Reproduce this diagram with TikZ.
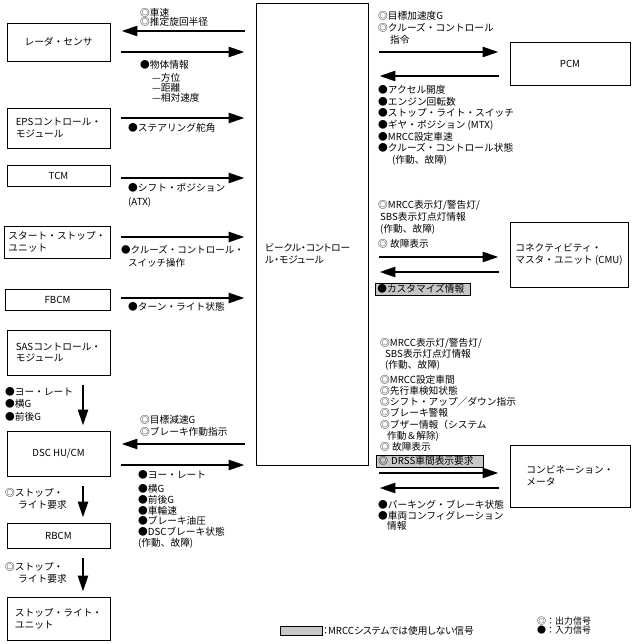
\documentclass[tikz,border=0pt]{standalone}
\usepackage{fontspec}
\setmainfont{Noto Sans CJK JP}
\newfontfamily\jpnarrow[RawFeature=+palt]{Noto Sans CJK JP}
\usetikzlibrary{arrows.meta}
\colorlet{NotUsed}{black!22}

\begin{document}
\begin{tikzpicture}[x=1pt,y=-1pt,
    every node/.style={font=\fontsize{9.7}{11.7}\selectfont},
    box/.style={draw,line width=0.9pt,inner sep=0pt,align=left},
    sig/.style={anchor=north west,align=left,inner sep=0pt},
    grey/.style={draw,line width=0.6pt,fill=NotUsed,anchor=west,
                 inner xsep=2pt,inner ysep=0pt,align=left},
    flow/.style={line width=2.6pt,-{Triangle[length=16pt,width=10pt]},
                 shorten <=11pt,shorten >=11pt},
    down/.style={line width=2.6pt,-{Triangle[length=16pt,width=10pt]},
                 shorten <=10pt,shorten >=5pt}]
  \useasboundingbox (0,0) rectangle (634,644);

  % modules
  \node[box,minimum width=103,minimum height=38] (radar) at (58.5,42) {レーダ・センサ};
  \node[box,minimum width=103,minimum height=40] (eps) at (58.5,128) {EPSコントロール・\\モジュール};
  \node[box,minimum width=103,minimum height=21] (tcm) at (58.5,175.5) {TCM};
  \node[box,minimum width=106,minimum height=32] (ssu) at (57,242) {スタート・ストップ・\\ユニット};
  \node[box,minimum width=105,minimum height=21] (fbcm) at (57.5,299.5) {FBCM};
  \node[box,minimum width=103,minimum height=45] (sas) at (58.5,352.5) {SASコントロール・\\モジュール};
  \node[box,minimum width=103,minimum height=45] (dsc) at (58.5,453.5) {DSC HU/CM};
  \node[box,minimum width=103,minimum height=25] (rbcm) at (58.5,535.5) {RBCM};
  \node[box,minimum width=103,minimum height=43] (slu) at (58.5,618.5) {ストップ・ライト・\\ユニット};
  \node[box,minimum width=112,minimum height=462] (vcm) at (312,234) {};
  \node[anchor=west,align=left,inner sep=0pt,font=\jpnarrow\fontsize{9.7}{12}\selectfont] (vcmname) at (265,254) {ビークル・コントロー\\ル・モジュール};
  \node[box,minimum width=120,minimum height=43] (pcm) at (570,63.5) {PCM};
  \node[box,minimum width=118,minimum height=65] (cmu) at (569,254.5) {コネクティビティ・\\マスタ・ユニット (CMU)};
  \node[box,minimum width=120,minimum height=62] (meter) at (570,476) {コンビネーション・\\メータ};

  % left side signals
  \draw[flow] (vcm.west |- 0,31) -- (radar.east |- 0,31);
  \draw[flow] (radar.east |- 0,52) -- (vcm.west |- 0,52);
  \draw[flow] (eps.east |- 0,118) -- (vcm.west |- 0,118);
  \draw[flow] (tcm.east |- 0,178) -- (vcm.west |- 0,178);
  \draw[flow] (ssu.east |- 0,237) -- (vcm.west |- 0,237);
  \draw[flow] (fbcm.east |- 0,298) -- (vcm.west |- 0,298);
  \draw[flow] (vcm.west |- 0,444) -- (dsc.east |- 0,444);
  \draw[flow] (dsc.east |- 0,465) -- (vcm.west |- 0,465);

  \node[sig,font=\fontsize{9.7}{9.5}\selectfont] (radarout) at (140,8) {◎車速\\◎推定旋回半径};
  \node[sig,font=\fontsize{9.7}{10}\selectfont] (radarin) at (140,60)
       {●物体情報\\[3pt]\hspace{12pt}—方位\\\hspace{12pt}—距離\\\hspace{12pt}—相対速度};
  \node[sig] (epsin) at (128,123) {●ステアリング舵角};
  \node[sig,font=\fontsize{9.7}{13.5}\selectfont] (tcmin) at (128,183.5) {●シフト・ポジション\\(ATX)};
  \node[sig,font=\fontsize{9.5}{13}\selectfont] (ssuin) at (121,245) {●クルーズ・コントロール・\\\hspace{7pt}スイッチ操作};
  \node[sig] (fbcmin) at (128,302) {●ターン・ライト状態};
  \node[sig,font=\fontsize{9.7}{12.5}\selectfont] (sasin) at (5,387) {●ヨー・レート\\●横G\\●前後G};
  \node[sig,font=\fontsize{9.7}{12}\selectfont] (dscout) at (140,415) {◎目標減速G\\◎ブレーキ作動指示};
  \node[sig,font=\fontsize{9.7}{10.7}\selectfont] (dscin) at (138,470)
       {●ヨー・レート\\[3.8pt]●横G\\●前後G\\●車輪速\\●ブレーキ油圧\\●DSCブレーキ状態\\(作動、故障)};

  % brake lamp chain
  \coordinate (vx) at (83,0);
  \draw[down] (sas.south -| vx) -- (dsc.north -| vx);
  \draw[down] (dsc.south -| vx) -- (rbcm.north -| vx);
  \draw[down] (rbcm.south -| vx) -- (slu.north -| vx);
  \node[sig,font=\fontsize{9.7}{12}\selectfont] (dscreq) at (5,488) {◎ストップ・\\\hspace{13pt}ライト要求};
  \node[sig,font=\fontsize{9.7}{12}\selectfont] (rbcmreq) at (5,562) {◎ストップ・\\\hspace{13pt}ライト要求};

  % right side signals
  \draw[flow] (vcm.east |- 0,52) -- (pcm.west |- 0,52);
  \draw[flow] (pcm.west |- 0,76) -- (vcm.east |- 0,76);
  \draw[flow] (vcm.east |- 0,257) -- (cmu.west |- 0,257);
  \draw[flow] (cmu.west |- 0,272) -- (vcm.east |- 0,272);
  \draw[flow] (vcm.east |- 0,473) -- (meter.west |- 0,473);
  \draw[flow] (meter.west |- 0,488) -- (vcm.east |- 0,488);

  \node[sig] (pcmout) at (378,11.5) {◎目標加速度G\\◎クルーズ・コントロール\\\hspace{12pt}指令};
  \node[sig] (pcmin) at (378,85)
       {●アクセル開度\\●エンジン回転数\\●ストップ・ライト・スイッチ\\●ギヤ・ポジション (MTX)\\●MRCC設定車速\\●クルーズ・コントロール状態\\\hspace{14pt}(作動、故障)};
  \node[sig] (cmuout) at (378,200.5)
       {◎MRCC表示灯/警告灯/\\\hspace{2pt}SBS表示灯点灯情報\\\hspace{2pt}(作動、故障)\\[3.5pt]◎ 故障表示};
  \node[grey,minimum width=95,minimum height=12,text width=91] (cmuin) at (375,289) {●カスタマイズ情報};
  \node[sig,font=\fontsize{9.7}{11.1}\selectfont] (meterout) at (380,338)
       {◎MRCC表示灯/警告灯/\\\hspace{5pt}SBS表示灯点灯情報\\\hspace{5pt}(作動、故障)\\[4pt]◎MRCC設定車間\\◎先行車検知状態\\◎シフト・アップ／ダウン指示\\◎ブレーキ警報\\◎ブザー情報（システム\\\hspace{7pt}作動＆解除)\\◎ 故障表示};
  \node[grey,minimum width=107,minimum height=12,text width=103] (drss) at (376,461) {◎ DRSS車間表示要求};
  \node[sig,font=\fontsize{9.7}{10.7}\selectfont] (meterin) at (378,500)
       {●パーキング・ブレーキ状態\\●車両コンフィグレーション\\\hspace{9pt}情報};

  % legend
  \node[draw,line width=0.6pt,fill=NotUsed,minimum width=42,minimum height=9,inner sep=0pt] (key) at (301,630.5) {};
  \node[anchor=west,inner sep=0pt,font=\jpnarrow\fontsize{9.7}{11}\selectfont] (keytext) at (323,630.5) {：MRCCシステムでは使用しない信号};
  \node[sig,font={\fontsize{9}{8.8}\selectfont\lineskiplimit=-10pt}] (marks) at (537,616.5) {◎：出力信号\\●：入力信号};
\end{tikzpicture}
\end{document}
